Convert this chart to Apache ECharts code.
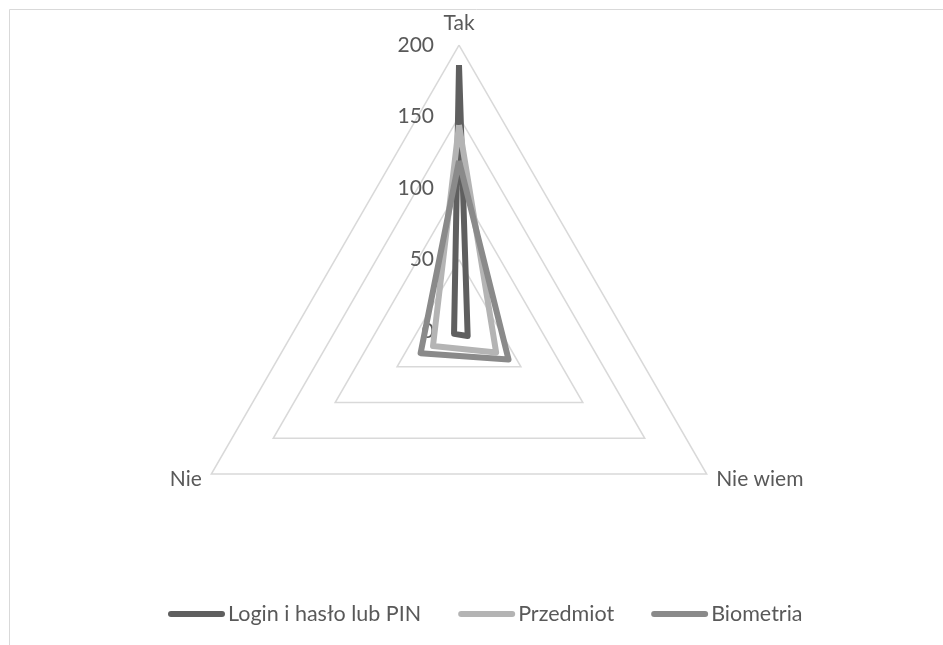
<!DOCTYPE html>
<html>
<head>
<meta charset="utf-8">
<script src="https://cdn.jsdelivr.net/npm/echarts@6/dist/echarts.min.js"></script>
<style>
  html, body { margin: 0; padding: 0; background: #fff; }
  #chart { width: 943px; height: 645px; }
</style>
</head>
<body>
<div id="chart"></div>
<script>
// Answer categories, placed on the radar axes
const categories = ['Tak', 'Nie', 'Nie wiem'];
// Number of answers per method, in the same order as categories
const loginPin = [186, 4, 7];
const przedmiot = [144, 21, 30];
const biometria = [119, 31, 40];
const seriesNames = ['Login i hasło lub PIN', 'Przedmiot', 'Biometria'];
const axisMax = 200;
const axisStep = 50;

const FONT = 'Lato, "Open Sans", sans-serif';
const TEXT = '#595959';
const COLORS = ['#5f5f5f', '#b4b4b4', '#8a8a8a'];
const cx = 459, cy = 331, R = 286;

// rounded stroke used as the legend key
const LEGEND_ICON = 'path://M3,0 H54 A3,3 0 0 1 54,6 H3 A3,3 0 0 1 3,0 Z';

const chart = echarts.init(document.getElementById('chart'), null, { renderer: 'canvas' });

chart.setOption({
  backgroundColor: '#fff',
  animation: false,
  color: COLORS,
  textStyle: { fontFamily: FONT, color: TEXT },
  graphic: [{
    type: 'rect',
    shape: { x: 9.5, y: 9.5, width: 1000, height: 1000 },
    style: { fill: 'none', stroke: '#d9d9d9', lineWidth: 1 },
    silent: true,
    z: -10
  }],
  // invisible cartesian value axis laid over the vertical radar spoke, used for tick labels
  grid: { left: cx, width: 1, top: cy - R, height: R },
  xAxis: { type: 'value', show: false },
  yAxis: {
    type: 'value', min: 0, max: axisMax, interval: axisStep,
    axisLine: { show: false }, axisTick: { show: false }, splitLine: { show: false },
    axisLabel: { color: TEXT, fontSize: 21, fontFamily: FONT, margin: 25 }
  },
  radar: {
    center: [cx, cy],
    radius: R,
    startAngle: 90,
    shape: 'polygon',
    splitNumber: 4,
    indicator: categories.map(n => ({ name: n, min: 0, max: axisMax })),
    axisName: { color: TEXT, fontSize: 21, fontFamily: FONT },
    nameGap: 11,
    axisLine: { show: false },
    splitLine: { lineStyle: { color: '#d9d9d9', width: 1.5 } },
    splitArea: { show: false },
    axisTick: { show: false },
    axisLabel: { show: false }
  },
  legend: {
    bottom: 15,
    left: 163,
    icon: LEGEND_ICON,
    itemWidth: 57,
    itemHeight: 6,
    itemGap: 37,
    textStyle: { color: TEXT, fontSize: 21.5, fontFamily: FONT, padding: [0, 0, 0, -2] },
    data: seriesNames
  },
  series: [{
    type: 'radar',
    symbol: 'none',
    data: [
      { name: seriesNames[0], value: loginPin, lineStyle: { color: COLORS[0], width: 6, join: 'round' }, z: 3 },
      { name: seriesNames[1], value: przedmiot, lineStyle: { color: COLORS[1], width: 6, join: 'round' } },
      { name: seriesNames[2], value: biometria, lineStyle: { color: COLORS[2], width: 6, join: 'round' } }
    ]
  }]
});
</script>
</body>
</html>
